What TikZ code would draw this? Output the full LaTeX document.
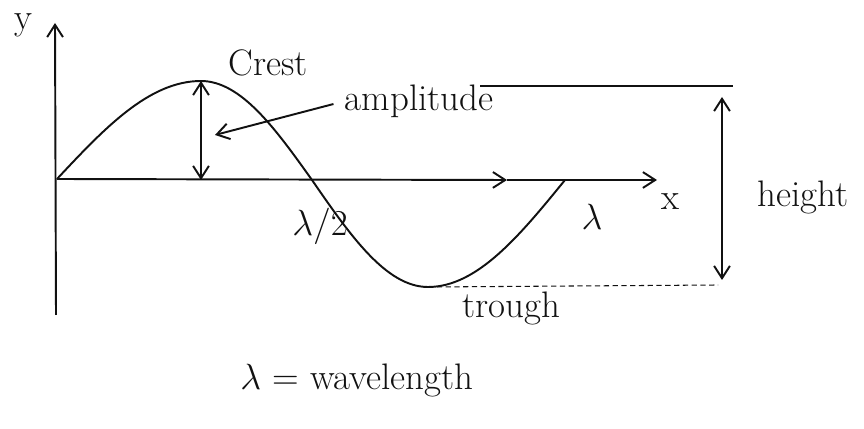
\documentclass[tikz,border=0pt]{standalone}
\usepackage{xcolor}
\usepackage{tikz}
\usetikzlibrary{arrows.meta,positioning,calc}
\definecolor{wink}{HTML}{111111}

\begin{document}
\begin{tikzpicture}[line width=1.1pt,draw=wink,
  >={Straight Barb[length=7pt,width=9pt]},
  every node/.style={font=\fontsize{21}{25}\selectfont,text=wink,inner sep=1pt}]
  \useasboundingbox (0,0) rectangle (17.28,-8.58);

  % axes
  \coordinate (O) at (1.14,-3.58);
  \coordinate (ytip) at (1.1,-0.46);
  \coordinate (ybot) at (1.12,-6.3);
  \coordinate (xmid) at (10.14,-3.6);
  \coordinate (xtip) at (13.14,-3.6);
  \draw[->] (ybot) -- (ytip);
  \draw[->] (O) -- (xmid);
  \draw[->] (xmid) -- (xtip);
  \node (ylab) at (0.46,-0.5) {y};
  \node (xlab) at (13.4,-4.04) {x};

  % wave
  \coordinate (crest) at (4.02,-1.62);
  \coordinate (zero) at (6.24,-3.6);
  \coordinate (trough) at (8.56,-5.74);
  \coordinate (lend) at (11.3,-3.6);
  \draw (O) sin (crest) cos (zero) sin (trough) cos (lend);

  % amplitude
  \draw[<->] (crest) -- (crest |- xmid);
  \node[anchor=base west] (amplab) at (6.84,-2.22) {amplitude};
  \coordinate (amptip) at (4.3,-2.7);
  \draw[->,shorten <=5pt] (amplab.west) -- (amptip);
  \node (crestlab) at (5.36,-1.26) {Crest};

  % height
  \coordinate (topl) at (9.6,-1.72);
  \coordinate (topr) at (14.66,-1.72);
  \coordinate (dashr) at (14.36,-5.7);
  \coordinate (htop) at (14.44,-1.94);
  \coordinate (hbot) at (14.44,-5.6);
  \draw (topl) -- (topr);
  \draw[densely dashed,line width=0.6pt] (trough) -- (dashr);
  \draw[<->] (hbot) -- (htop);
  \node[anchor=base] (heightlab) at (16.06,-4.14) {height};

  % labels
  \node (halflab) at (6.4,-4.52) {$\lambda/2$};
  \node (lamlab) at (11.84,-4.34) {$\lambda$};
  \node[anchor=base] (troughlab) at (10.22,-6.36) {trough};
  \node[anchor=base] (deflab) at (7.14,-7.8) {$\lambda$ = wavelength};
\end{tikzpicture}
\end{document}
